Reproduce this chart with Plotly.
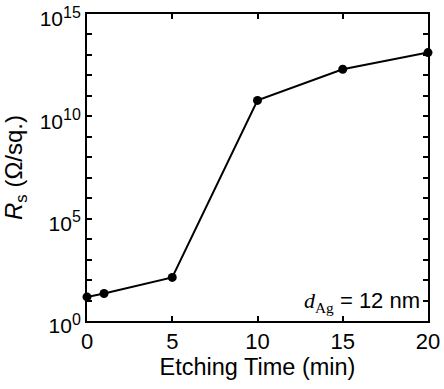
import plotly.graph_objects as go

etch_time = [0, 1, 5, 10, 15, 20]
rs_values = [15, 22, 135, 6e10, 2e12, 1.3e13]

y_decades = list(range(0, 16))
y_tick_vals = [10 ** d for d in y_decades]
y_tick_text = [
    f"10<sup><span style='font-size:16px'>{d}</span></sup>" if d % 5 == 0 else ""
    for d in y_decades
]
x_tick_vals = [0, 5, 10, 15, 20]

font_family = "Liberation Sans, Arial, Helvetica, sans-serif"

fig = go.Figure()
fig.add_trace(go.Scatter(
    x=etch_time, y=rs_values, mode="lines+markers",
    line=dict(color="black", width=2),
    marker=dict(color="black", size=9),
    cliponaxis=False, showlegend=False,
))

fig.update_layout(
    width=444, height=389,
    margin=dict(l=87, r=16, t=14, b=68),
    paper_bgcolor="white", plot_bgcolor="white",
    font=dict(family=font_family, size=20, color="black"),
)
fig.update_xaxes(
    range=[0, 20], tickvals=x_tick_vals, automargin=False,
    ticklabeloverflow="allow",
    ticks="inside", ticklen=5, tickwidth=1.5, tickcolor="black",
    showline=True, linewidth=2, linecolor="black", mirror="ticks",
    showgrid=False, zeroline=False,
    tickfont=dict(size=22),
    title=dict(text="Etching Time (min)", font=dict(size=23.5), standoff=4),
)
fig.update_yaxes(
    type="log", range=[0, 15.0001], tickvals=y_tick_vals, ticktext=y_tick_text,
    automargin=False, ticklabeloverflow="allow", ticklabelshift=5,
    ticklabelstandoff=0,
    ticks="inside", ticklen=5, tickwidth=1.5, tickcolor="black",
    showline=True, linewidth=2, linecolor="black", mirror="ticks",
    showgrid=False, zeroline=False,
    tickfont=dict(size=21),
    title=dict(text="<i>R</i><sub>s</sub> (Ω/sq.)", font=dict(size=24), standoff=10),
)
fig.add_annotation(
    x=1, y=0, xref="paper", yref="paper", xanchor="right", yanchor="bottom",
    xshift=-6, yshift=3, showarrow=False,
    text="<span style='font-family:Liberation Serif, Times New Roman, serif'><i>d</i></span>"
         "<sub><span style='font-family:Liberation Serif, Times New Roman, serif'>Ag</span></sub> = 12 nm",
    font=dict(size=22, family=font_family, color="black"),
)
fig.write_html("out.html", config={"displayModeBar": False},
               post_script="document.body.style.margin='0';")
